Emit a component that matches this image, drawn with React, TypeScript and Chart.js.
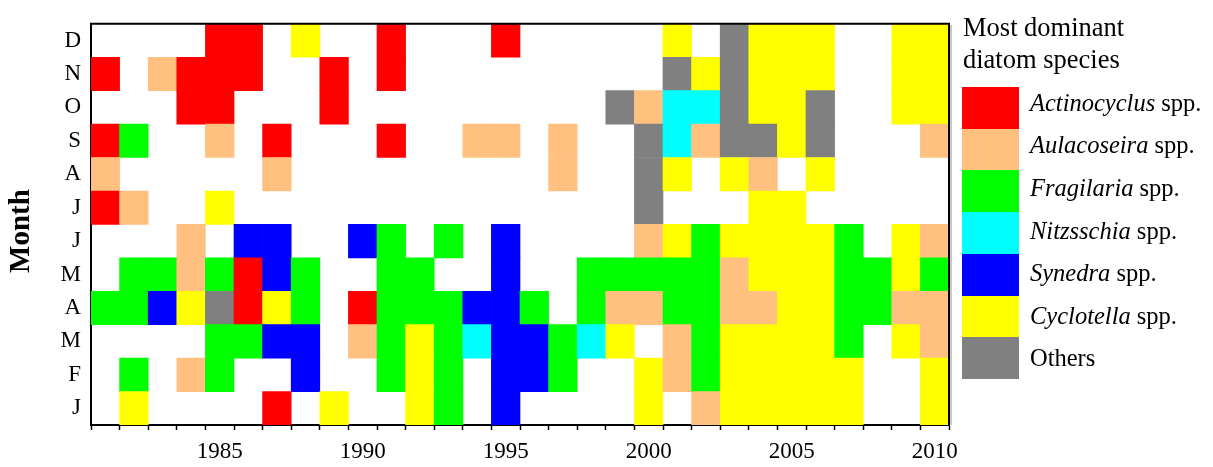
import React, { useEffect, useRef } from 'react';
import { Chart, registerables } from 'chart.js';

Chart.register(...registerables);

// Years on the horizontal axis
const years = [
  '1981', '1982', '1983', '1984', '1985', '1986', '1987', '1988', '1989', '1990',
  '1991', '1992', '1993', '1994', '1995', '1996', '1997', '1998', '1999', '2000',
  '2001', '2002', '2003', '2004', '2005', '2006', '2007', '2008', '2009', '2010',
];
const labelledYears = ['1985', '1990', '1995', '2000', '2005', '2010'];

// Month letters, bottom (January) to top (December)
const monthLetters = ['J', 'F', 'M', 'A', 'M', 'J', 'J', 'A', 'S', 'O', 'N', 'D'];

// Species codes, names and colours
const speciesCodes = ['R', 'P', 'G', 'C', 'B', 'Y', 'O'];
const speciesNames = ['Actinocyclus', 'Aulacoseira', 'Fragilaria', 'Nitzsschia', 'Synedra', 'Cyclotella', 'Others'];
const speciesItalic = [true, true, true, true, true, true, false];
const speciesColors = ['#ff0000', '#ffc080', '#00ff00', '#00ffff', '#0000ff', '#ffff00', '#808080'];

// Most dominant species per month, one character per year (1981-2010); '.' = none
const jan = '.Y....R.Y..YG.B....Y.PYYYYY..Y';
const feb = '.G.PG..B..GYG.BBG..YPGYYYYY..Y';
const mar = '....GGBB.PGYGCBBGCY.PGYYYYG.YP';
const apr = 'GGBYORYG.RGGGBBG.GPPGGPPYYGGPP';
const may = '.GGPGRBG..GG..B..GGGGGPYYYGGYG';
const jun = '...P.BB..BG.G.B....PYGYYYYG.YP';
const jul = 'RP..Y..............O...YY.....';
const aug = 'P.....P.........P..OY.YP.Y....';
const sep = 'RG..P.R...R..PP.P..OCPOOYO...P';
const oct = '...RR...R.........OPCCOYYO..YY';
const nov = 'R.PRRR..R.R.........OYOYYY..YY';
const dec = '....RR.Y..R...R.....Y.OYYY..YY';

const monthRows = [jan, feb, mar, apr, may, jun, jul, aug, sep, oct, nov, dec];

const SERIF = '"Liberation Serif", "Times New Roman", serif';

const colorOf = (code: string) => {
  const i = speciesCodes.indexOf(code);
  return i >= 0 ? speciesColors[i] : 'rgba(0,0,0,0)';
};

// Frame, rotated axis title and species legend
const decorations = {
  id: 'decorations',
  afterDraw(chart: any) {
    const { ctx, chartArea: ca } = chart;
    ctx.save();
    // top and right frame lines
    ctx.strokeStyle = '#000';
    ctx.lineWidth = 2;
    ctx.beginPath();
    ctx.moveTo(ca.left - 1, ca.top);
    ctx.lineTo(ca.right, ca.top);
    ctx.lineTo(ca.right, ca.bottom + 1);
    ctx.stroke();
    ctx.strokeStyle = '#c8c8c8';
    ctx.lineWidth = 2;
    ctx.beginPath();
    ctx.moveTo(ca.right + 2, ca.top + 1);
    ctx.lineTo(ca.right + 2, ca.bottom);
    ctx.stroke();

    // y-axis title
    ctx.fillStyle = '#000';
    ctx.font = `bold 29px ${SERIF}`;
    ctx.textAlign = 'center';
    ctx.textBaseline = 'middle';
    ctx.translate(22, 231);
    ctx.rotate(-Math.PI / 2);
    ctx.fillText('Month', 0, 0);
    ctx.setTransform(1, 0, 0, 1, 0, 0);

    // legend
    ctx.textAlign = 'left';
    ctx.textBaseline = 'alphabetic';
    ctx.font = `26.5px ${SERIF}`;
    ctx.fillText('Most dominant', 963, 36);
    ctx.fillText('diatom species', 963, 68);
    speciesNames.forEach((name, i) => {
      const top = Math.round(87 + i * 41.7);
      const bottom = Math.round(87 + (i + 1) * 41.7);
      ctx.fillStyle = speciesColors[i];
      ctx.fillRect(962, top, 57, bottom - top);
      ctx.fillStyle = '#000';
      const base = 110.7 + i * 42.6;
      let x = 1030;
      if (speciesItalic[i]) {
        ctx.font = `italic 24.5px ${SERIF}`;
        ctx.fillText(name, x, base);
        x += ctx.measureText(name).width;
        ctx.font = `24.5px ${SERIF}`;
        ctx.fillText(' spp.', x, base);
      } else {
        ctx.font = `24.5px ${SERIF}`;
        ctx.fillText(name, x, base);
      }
    });
    ctx.restore();
  },
};

export default function App() {
  const canvasRef = useRef<HTMLCanvasElement | null>(null);

  useEffect(() => {
    if (!canvasRef.current) return;
    const datasets = monthRows.map((row, m) => ({
      label: monthLetters[m],
      data: years.map((_, i) => (row[i] === '.' ? null : [m, m + 1])),
      backgroundColor: years.map((_, i) => colorOf(row[i])),
      borderWidth: 0,
      grouped: false,
      barPercentage: 1,
      categoryPercentage: 1,
    }));

    const chart = new Chart(canvasRef.current, {
      type: 'bar',
      data: { labels: years, datasets: datasets as any },
      options: {
        animation: false,
        responsive: false,
        maintainAspectRatio: false,
        layout: { padding: { top: 9, right: 264, left: 0, bottom: 0 } },
        plugins: { legend: { display: false }, tooltip: { enabled: false } },
        scales: {
          x: {
            type: 'category',
            offset: true,
            grid: {
              offset: true,
              drawOnChartArea: false,
              drawTicks: true,
              tickLength: 5,
              tickColor: '#000',
              tickWidth: 1.5,
            },
            border: { display: true, color: '#000', width: 2 },
            ticks: {
              autoSkip: false,
              maxRotation: 0,
              minRotation: 0,
              padding: 8,
              color: '#000',
              font: { family: SERIF, size: 23 },
              callback: (_v: any, idx: number) => (labelledYears.includes(years[idx]) ? years[idx] : ''),
            },
            afterFit: (scale: any) => {
              scale.height = 42;
            },
          },
          y: {
            type: 'linear',
            min: 0,
            max: 12,
            grid: { drawOnChartArea: false, drawTicks: false },
            border: { display: true, color: '#000', width: 2 },
            afterBuildTicks: (scale: any) => {
              scale.ticks = monthLetters.map((_, i) => ({ value: i + 0.5 }));
            },
            ticks: {
              padding: 10,
              color: '#000',
              font: { family: SERIF, size: 23 },
              callback: (v: any) => monthLetters[Math.floor(Number(v))],
            },
            afterFit: (scale: any) => {
              scale.width = 91;
            },
          },
        },
      },
      plugins: [decorations],
    });
    return () => chart.destroy();
  }, []);

  return (
    <div style={{ position: 'absolute', left: 0, top: 0, width: 1213, height: 467, background: '#fff' }}>
      <canvas ref={canvasRef} width={1213} height={467} style={{ display: 'block' }} />
    </div>
  );
}
